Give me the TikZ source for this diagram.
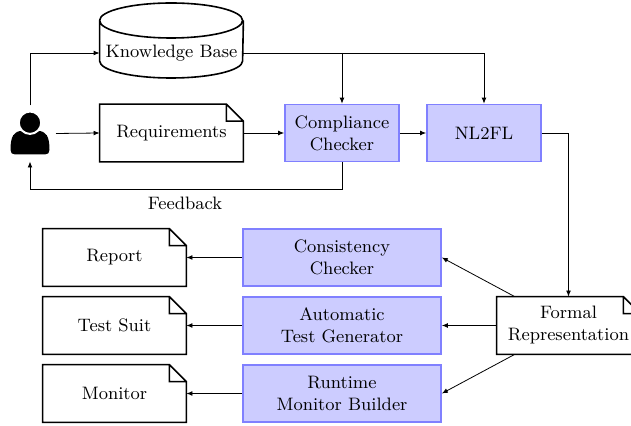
\documentclass[tikz,border=0pt]{standalone}
\usetikzlibrary{arrows.meta,calc}
\tikzset{
  x=0.5pt,y=-0.5pt,
  every node/.style={font=\fontsize{9pt}{11pt}\selectfont},
  boxbase/.style={rectangle,minimum width=71.5pt,minimum height=28.5pt,inner sep=1pt,align=center},
  proc/.style={boxbase,draw=blue!50,fill=blue!20,line width=0.8pt,minimum width=57pt},
  wideproc/.style={proc,minimum width=99pt},
  notedoc/.style={boxbase,append after command={\pgfextra{
    \draw[line width=0.8pt,line join=miter]
    (\tikzlastnode.north west) -- ([xshift=-8.5pt]\tikzlastnode.north east) -- ([yshift=-8.5pt]\tikzlastnode.north east)
    -- (\tikzlastnode.south east) -- (\tikzlastnode.south west) -- cycle
    ([xshift=-8.5pt]\tikzlastnode.north east) -- ([xshift=-8.5pt,yshift=-8.5pt]\tikzlastnode.north east) -- ([yshift=-8.5pt]\tikzlastnode.north east);
  }}},
  drum/.style={rectangle,minimum width=71.5pt,minimum height=17pt,inner sep=0pt,append after command={\pgfextra{
    \draw[line width=0.8pt]
    ([yshift=16.25pt]\tikzlastnode.west) arc[start angle=180,end angle=540,x radius=35.75pt,y radius=8.75pt]
    -- ([yshift=-4pt]\tikzlastnode.west) arc[start angle=180,end angle=360,x radius=35.75pt,y radius=8.5pt]
    -- ([yshift=16.25pt]\tikzlastnode.east);
  }}},
  conn/.style={-{Latex[length=3pt,width=2.4pt]},line width=0.4pt},
}
\begin{document}
\begin{tikzpicture}
\useasboundingbox (0,0) rectangle (631,426);
% user icon
\fill (10.5,150) .. controls (10.5,136) and (14,131) .. (22,131) -- (38,131) .. controls (46,131) and (49.5,136) .. (49.5,150) .. controls (49.5,153) and (48,154.5) .. (45,154.5) -- (15,154.5) .. controls (12,154.5) and (10.5,153) .. (10.5,150) -- cycle;
\filldraw[draw=white,line width=1pt] (30,122.7) circle[radius=5.6pt];
\node[rectangle,minimum width=26pt,minimum height=28pt,inner sep=0pt,outer sep=0pt] (user) at (30,133.5) {};
% nodes
\node[drum] (kb) at (171.5,53) {Knowledge Base};
\node[notedoc] (req) at (171.5,133) {Requirements};
\node[proc] (comp) at (342,133) {Compliance\\Checker};
\node[proc] (nl) at (484,133) {NL2FL};
\node[notedoc] (formal) at (568.5,325.5) {Formal\\Representation};
\node[wideproc] (cons) at (342,257.5) {Consistency\\Checker};
\node[wideproc] (auto) at (342,325.5) {Automatic\\Test Generator};
\node[wideproc] (run) at (342,393.5) {Runtime\\Monitor Builder};
\node[notedoc] (report) at (114.5,257.5) {Report};
\node[notedoc] (suit) at (114.5,325.5) {Test Suit};
\node[notedoc] (mon) at (114.5,393.5) {Monitor};
\node[inner sep=0pt] (fb) at (185,203) {Feedback};
% connectors
\draw[conn] (user.north) |- (kb.west);
\draw[conn] (user.east) -- (req.west);
\draw[conn] (req.east) -- (comp.west);
\draw[conn] (comp.east) -- (nl.west);
\draw[conn] (kb.east) -| (nl.north);
\draw[conn] (kb.east -| comp.north) -- (comp.north);
\coordinate (fbturn) at (342,189);
\draw[conn] (comp.south) -- (fbturn) -| (user.south);
\draw[conn] (nl.east) -| (formal.north);
\draw[conn] (formal) -- (cons.east);
\draw[conn] (formal.west) -- (auto.east);
\draw[conn] (formal) -- (run.east);
\draw[conn] (cons.west) -- (report.east);
\draw[conn] (auto.west) -- (suit.east);
\draw[conn] (run.west) -- (mon.east);
\end{tikzpicture}
\end{document}
